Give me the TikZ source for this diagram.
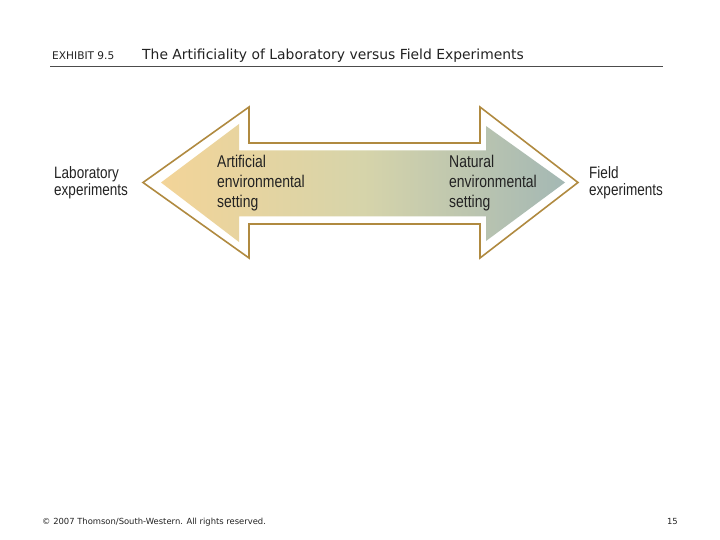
\documentclass[tikz,border=0pt]{standalone}
\usepackage{fontspec}
\setmainfont{Liberation Sans}
\newfontfamily\condfont[FakeStretch=0.82]{Liberation Sans}
\newfontfamily\titlefont{DejaVu Sans}
\definecolor{outline}{RGB}{176,138,64}
\definecolor{leftfill}{RGB}{243,212,152}
\definecolor{midfill}{RGB}{214,212,170}
\definecolor{rightfill}{RGB}{164,184,180}
\definecolor{inktext}{RGB}{34,34,34}
\tikzset{
  arrowtext/.style={anchor=north west, inner sep=0pt, align=left, text=inktext,
    font=\condfont\fontsize{17}{20}\selectfont},
  sidetext/.style={anchor=north west, inner sep=0pt, align=left, text=inktext,
    font=\condfont\fontsize{16.5}{17.5}\selectfont},
  outerarrow/.style={draw=outline, line width=1.6pt, fill=white, line join=miter},
  plaintext/.style={inner sep=0pt, text=inktext},
}
\begin{document}
\begin{tikzpicture}[x=1pt,y=-1pt]
\useasboundingbox (0,0) rectangle (720,540);
% title
\node[plaintext, anchor=base west, font=\titlefont\fontsize{10.6}{12}\selectfont] (exh) at (52,60) {EXHIBIT 9.5};
\node[plaintext, anchor=base west, font=\titlefont\fontsize{13.9}{16}\selectfont] (title) at (142,60) {The Artificiality of Laboratory versus Field Experiments};
\coordinate (rulel) at (50,66.5);
\coordinate (ruler) at (663,66.5);
\draw[line width=0.8pt, draw=black!70] (rulel) -- (ruler);
% outer arrow
\draw[outerarrow] (143,182.5) -- (249,107) -- (249,143) -- (480,143) -- (480,107) -- (578,182.5) -- (480,258) -- (480,224) -- (249,224) -- (249,258) -- cycle;
% inner gradient arrow
\shade[left color=leftfill, right color=rightfill, middle color=midfill]
  (161,182.5) -- (239,124) -- (239,150.5) -- (486,150.5) -- (486,126) -- (565,182.5) -- (486,241) -- (486,216.5) -- (239,216.5) -- (239,242) -- cycle;
% arrow texts
\node[arrowtext] (art) at (217,154.5) {Artificial\\environmental\\setting};
\node[arrowtext] (nat) at (449,154.5) {Natural\\environmental\\setting};
% side labels
\node[sidetext] (lab) at (54,166) {Laboratory\\experiments};
\node[sidetext] (fld) at (589,166) {Field\\experiments};
% footer
\node[plaintext, anchor=base west, font=\titlefont\fontsize{8.4}{10}\selectfont] (copy) at (42,524) {\textcopyright{} 2007 Thomson/South-Western. All rights reserved.};
\node[plaintext, anchor=base east, font=\titlefont\fontsize{8.4}{10}\selectfont] (page) at (678,524) {15};
\end{tikzpicture}
\end{document}
